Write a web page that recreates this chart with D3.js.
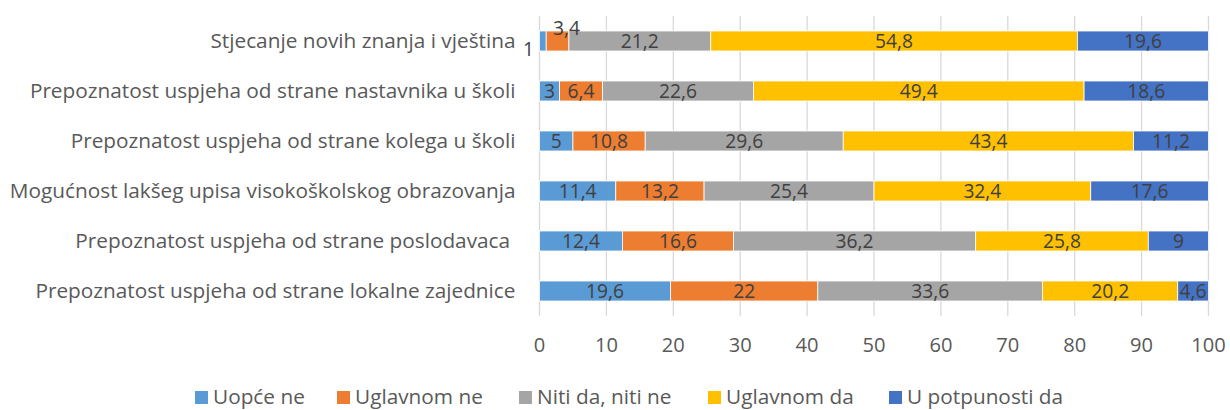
<!DOCTYPE html>
<html>
<head>
<meta charset="utf-8">
<script src="https://cdn.jsdelivr.net/npm/d3@7"></script>
<style>
  body { margin: 0; background: #fff; }
  svg { display: block; font-family: "Open Sans", "Noto Sans", sans-serif; }
</style>
</head>
<body>
<svg id="canvas" width="1230" height="410"></svg>
<script>
// categories, top to bottom
var categories = [
  'Stjecanje novih znanja i vještina',
  'Prepoznatost uspjeha od strane nastavnika u školi',
  'Prepoznatost uspjeha od strane kolega u školi',
  'Mogućnost lakšeg upisa visokoškolskog obrazovanja',
  'Prepoznatost uspjeha od strane poslodavaca ',
  'Prepoznatost uspjeha od strane lokalne zajednice'
];
var seriesNames = ['Uopće ne', 'Uglavnom ne', 'Niti da, niti ne', 'Uglavnom da', 'U potpunosti da'];
var uopceNe = [1, 3, 5, 11.4, 12.4, 19.6];
var uglavnomNe = [3.4, 6.4, 10.8, 13.2, 16.6, 22];
var nitiDaNitiNe = [21.2, 22.6, 29.6, 25.4, 36.2, 33.6];
var uglavnomDa = [54.8, 49.4, 43.4, 32.4, 25.8, 20.2];
var uPotpunostiDa = [19.6, 18.6, 11.2, 17.6, 9, 4.6];
var xTicks = [0, 10, 20, 30, 40, 50, 60, 70, 80, 90, 100];

var colors = ['#5B9BD5', '#ED7D31', '#A5A5A5', '#FFC000', '#4472C4'];
var seriesValues = [uopceNe, uglavnomNe, nitiDaNitiNe, uglavnomDa, uPotpunostiDa];

var margin = { top: 16, left: 539.5, right: 21.5, bottom: 94 };
var width = 1230, height = 410;

var svg = d3.select('#canvas');

// fit a font size so that a text gets a given width (reference used Calibri)
function fitSize(str, target) {
  var probe = svg.append('text').attr('font-size', 20).style('white-space', 'pre').text(str);
  var w = probe.node().getComputedTextLength();
  probe.remove();
  return 20 * target / w;
}
var catSize = fitSize(categories[3], 506);
var labelSize = fitSize('19,6', 38);
var tickSize = fitSize('10', 23);
var legendSize = fitSize('Uglavnom ne', 128);

var x = d3.scaleLinear().domain([0, 100]).range([margin.left, width - margin.right]);
var y = d3.scaleBand().domain(categories).range([margin.top, height - margin.bottom]).paddingInner(0.6).paddingOuter(0.3);

// build stacked table
var table = categories.map(function (c, i) {
  var row = { cat: c };
  seriesNames.forEach(function (s, j) { row[s] = seriesValues[j][i]; });
  return row;
});
var stacked = d3.stack().keys(seriesNames)(table);

// gridlines
svg.append('g').selectAll('line').data(xTicks).enter().append('line')
  .attr('x1', function (d) { return x(d); }).attr('x2', function (d) { return x(d); })
  .attr('y1', margin.top).attr('y2', height - margin.bottom)
  .attr('stroke', '#D9D9D9').attr('stroke-width', 1.3);

// bars
var layers = svg.append('g').selectAll('g').data(stacked).enter().append('g')
  .attr('fill', function (d, i) { return colors[i]; });

layers.selectAll('rect').data(function (d) { return d; }).enter().append('rect')
  .attr('x', function (d) { return x(d[0]); })
  .attr('width', function (d) { return x(d[1]) - x(d[0]); })
  .attr('y', function (d) { return y(d.data.cat); })
  .attr('height', y.bandwidth())
  .attr('stroke', '#fff').attr('stroke-width', 0.8);

// data labels, drawn after all bars
var fmt = function (v) { return String(v).replace('.', ','); };
var allSegs = [];
stacked.forEach(function (s) { s.forEach(function (d) { allSegs.push(d); }); });

// tiny segments of the first row have their labels pushed aside, like in Excel
function tiny(d) { return d.data.cat === categories[0] && (d[1] - d[0]) < 4; }

svg.append('g').selectAll('text').data(allSegs).enter().append('text')
  .attr('x', function (d) {
    var v = d[1] - d[0];
    if (tiny(d) && v < 2) return x(d[0]) - 11;  // left of bar
    if (tiny(d)) return x((d[0] + d[1]) / 2) + 9; // above bar
    return x((d[0] + d[1]) / 2);
  })
  .attr('y', function (d) {
    var v = d[1] - d[0];
    var cy = y(d.data.cat) + y.bandwidth() / 2;
    if (tiny(d) && v < 2) return cy + 8;
    if (tiny(d)) return cy - 13;
    return cy;
  })
  .attr('text-anchor', 'middle').attr('dy', '0.35em')
  .attr('font-size', labelSize).attr('fill', '#404040')
  .text(function (d) { return fmt(Math.round((d[1] - d[0]) * 10) / 10); });

// category labels
svg.append('g').selectAll('text').data(categories).enter().append('text')
  .attr('x', margin.left - 24)
  .attr('y', function (d) { return y(d) + y.bandwidth() / 2; })
  .attr('dy', '0.35em').attr('text-anchor', 'end')
  .attr('font-size', catSize).attr('fill', '#595959')
  .style('white-space', 'pre')
  .text(function (d) { return d; });

// x axis tick labels
svg.append('g').selectAll('text').data(xTicks).enter().append('text')
  .attr('x', function (d) { return x(d); })
  .attr('y', 345).attr('dy', '0.35em').attr('text-anchor', 'middle')
  .attr('font-size', tickSize).attr('fill', '#595959')
  .text(function (d) { return d; });

// legend
var legendX = [195, 337, 519, 708, 889];
var legend = svg.append('g').selectAll('g').data(seriesNames).enter().append('g')
  .attr('transform', function (d, i) { return 'translate(' + legendX[i] + ',391)'; });
legend.append('rect').attr('width', 13).attr('height', 13)
  .attr('fill', function (d, i) { return colors[i]; });
legend.append('text').attr('x', 18).attr('y', 13)
  .attr('font-size', legendSize).attr('fill', '#595959')
  .text(function (d) { return d; });
</script>
</body>
</html>
